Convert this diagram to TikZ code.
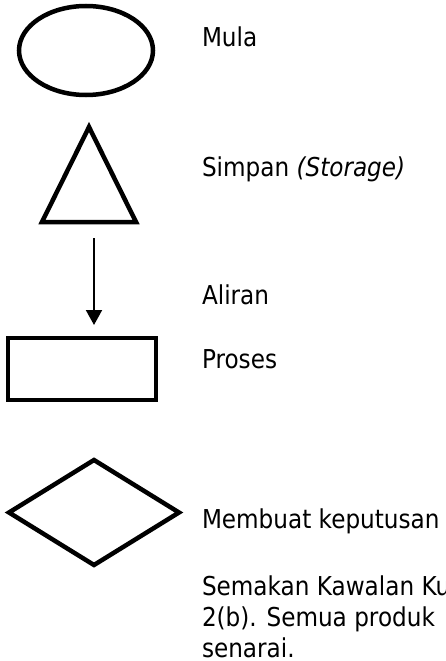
\documentclass[tikz,border=0pt]{standalone}
\usepackage{fontspec}
\setmainfont{DejaVu Sans}[FakeStretch=0.89]
\usetikzlibrary{arrows.meta,shapes.geometric}
\begin{document}
\begin{tikzpicture}[x=1pt,y=-1pt,
  symline/.style={line width=4.5pt, line join=miter},
  lbl/.style={anchor=base west, inner sep=0pt, outer sep=0pt, font=\fontsize{26pt}{31pt}\selectfont}]
\useasboundingbox (0,0) rectangle (446,661);
\clip (0,0) rectangle (446,661);

% Mula (terminal)
\node[ellipse, draw, symline, minimum width=134pt, minimum height=89pt, inner sep=0pt] (mula) at (86,50.5) {};

% Simpan (storage) triangle
\coordinate (tA) at (89,127);
\coordinate (tB) at (136,222);
\coordinate (tC) at (42,222);
\draw[symline] (tA) -- (tB) -- (tC) -- cycle;

% Aliran (flow) arrow
\coordinate (aS) at (94,238);
\coordinate (aE) at (94,325);
\draw[line width=2pt, -{Triangle[width=16pt,length=15pt]}] (aS) -- (aE);

% Proses rectangle
\node[draw, symline, minimum width=148pt, minimum height=62pt, inner sep=0pt] (proses) at (82,369) {};

% Keputusan diamond
\coordinate (dL) at (9,512.5);
\coordinate (dT) at (94,460);
\coordinate (dR) at (179,512.5);
\coordinate (dB) at (94,565);
\draw[symline] (dL) -- (dT) -- (dR) -- (dB) -- cycle;

% Labels
\node[lbl] (tmula) at (202,46.5) {Mula};
\node[lbl] (tsimpan) at (202,176) {Simpan \textit{(Storage)}};
\node[lbl] (taliran) at (202,304) {Aliran};
\node[lbl] (tproses) at (202,368) {Proses};
\node[lbl] (tkeputusan) at (202,528) {Membuat keputusan};
\node[lbl] (tl1) at (202,595) {Semakan Kawalan Ku};
\node[lbl] (tl2) at (202,626) {2(b). Semua produk};
\node[lbl] (tl3) at (202,657) {senarai.};
\end{tikzpicture}
\end{document}
